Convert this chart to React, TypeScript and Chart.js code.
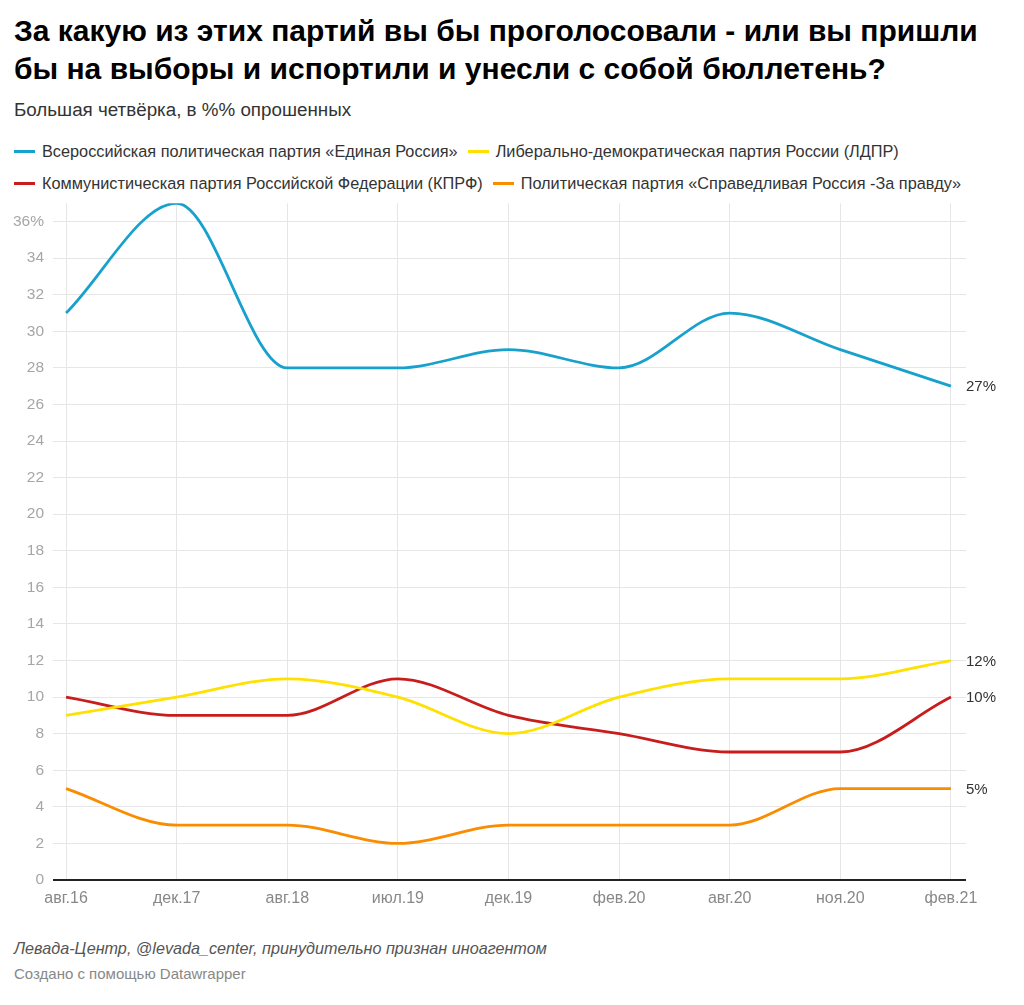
import { useEffect, useRef } from "react";
import { Chart, registerables } from "chart.js";

Chart.register(...registerables);

const LABELS = ["авг.16", "дек.17", "авг.18", "июл.19", "дек.19", "фев.20", "авг.20", "ноя.20", "фев.21"];
const ER = [31, 37, 28, 28, 29, 28, 31, 29, 27];
const LDPR = [9, 10, 11, 10, 8, 10, 11, 11, 12];
const KPRF = [10, 9, 9, 11, 9, 8, 7, 7, 10];
const SR = [5, 3, 3, 2, 3, 3, 3, 5, 5];
const Y_TICKS = [0, 2, 4, 6, 8, 10, 12, 14, 16, 18, 20, 22, 24, 26, 28, 30, 32, 34, 36];

const SERIES = [
  { name: "Всероссийская политическая партия «Единая Россия»", data: ER, color: "#18a1cd" },
  { name: "Либерально-демократическая партия России (ЛДПР)", data: LDPR, color: "#fee100" },
  { name: "Коммунистическая партия Российской Федерации (КПРФ)", data: KPRF, color: "#c71e1d" },
  { name: "Политическая партия «Справедливая Россия -За правду»", data: SR, color: "#fa8c00" },
];

const FONT = "'Liberation Sans', Arial, sans-serif";

// подписи последних значений справа от линий
const endLabels = {
  id: "endLabels",
  afterDatasetsDraw(chart: any) {
    const ctx = chart.ctx;
    ctx.save();
    ctx.font = `15px ${FONT}`;
    ctx.fillStyle = "#333";
    ctx.textAlign = "left";
    ctx.textBaseline = "middle";
    SERIES.forEach((s, i) => {
      const pts = chart.getDatasetMeta(i).data;
      const last = pts[pts.length - 1];
      ctx.fillText(`${s.data[s.data.length - 1]}%`, last.x + 15, last.y + 1);
    });
    ctx.restore();
  },
};

function LineChart() {
  const canvasRef = useRef<HTMLCanvasElement | null>(null);

  useEffect(() => {
    const canvas = canvasRef.current;
    if (!canvas) return;
    const chart = new Chart(canvas, {
      type: "line",
      data: {
        datasets: SERIES.map((s) => ({
          label: s.name,
          data: s.data.map((v, i) => ({ x: i, y: v })),
          borderColor: s.color,
          backgroundColor: s.color,
          borderWidth: 2.8,
          pointRadius: 0,
          cubicInterpolationMode: "monotone" as const,
          fill: false,
        })),
      },
      options: {
        animation: false,
        responsive: true,
        maintainAspectRatio: false,
        layout: { padding: { left: 0, right: 58, top: 7, bottom: 0 } },
        plugins: { legend: { display: false }, tooltip: { enabled: false } },
        scales: {
          x: {
            type: "linear",
            min: -0.118,
            max: 8.136,
            afterBuildTicks: (scale: any) => {
              scale.ticks = LABELS.map((_, i) => ({ value: i }));
            },
            afterFit: (scale: any) => {
              scale.height = 40;
            },
            border: { display: false },
            grid: { color: "#e6e6e6", lineWidth: 1, drawTicks: false },
            ticks: {
              autoSkip: false,
              maxRotation: 0,
              padding: 9,
              color: "#888",
              font: { size: 16, family: FONT },
              callback: (v: any) => LABELS[v] ?? "",
            },
          },
          y: {
            min: 0,
            max: 37,
            afterBuildTicks: (scale: any) => {
              scale.ticks = Y_TICKS.map((v) => ({ value: v }));
            },
            afterFit: (scale: any) => {
              scale.width = 53;
            },
            border: { display: false },
            grid: {
              drawTicks: false,
              color: (c: any) => (c.tick && c.tick.value === 0 ? "#222" : "#e6e6e6"),
              lineWidth: (c: any) => (c.tick && c.tick.value === 0 ? 2 : 1),
            },
            ticks: {
              padding: 9,
              color: "#a6a6a6",
              font: { size: 15.5, family: FONT },
              callback: (v: any) => (v === 36 ? "36%" : `${v}`),
            },
          },
        },
      },
      plugins: [endLabels],
    });
    return () => chart.destroy();
  }, []);

  return (
    <div style={{ position: "absolute", left: 0, top: 185, width: 1024, height: 735 }}>
      <canvas ref={canvasRef} />
    </div>
  );
}

export default function App() {
  useEffect(() => {
    document.body.style.margin = "0";
  }, []);

  return (
    <div
      style={{
        position: "relative",
        width: 1024,
        height: 1005,
        background: "#fff",
        fontFamily: FONT,
        color: "#333",
        overflow: "hidden",
      }}
    >
      <div
        style={{
          position: "absolute",
          left: 14,
          top: 12,
          width: 980,
          fontSize: 30,
          lineHeight: "38px",
          fontWeight: 700,
          color: "#000",
        }}
      >
        За какую из этих партий вы бы проголосовали - или вы пришли бы на выборы и испортили и унесли с собой бюллетень?
      </div>
      <div style={{ position: "absolute", left: 14, top: 99, fontSize: 18.8, color: "#333" }}>
        Большая четвёрка, в %% опрошенных
      </div>
      <div
        style={{
          position: "absolute",
          left: 14,
          top: 142,
          width: 990,
          display: "flex",
          flexWrap: "wrap",
          columnGap: 10,
          rowGap: 13,
          fontSize: 16.3,
          lineHeight: "19px",
        }}
      >
        {SERIES.map((s) => (
          <div key={s.name} style={{ display: "flex", alignItems: "center" }}>
            <span style={{ width: 21, height: 3, background: s.color, marginRight: 7, display: "inline-block" }} />
            <span>{s.name}</span>
          </div>
        ))}
      </div>
      <LineChart />
      <div style={{ position: "absolute", left: 14, top: 939, fontSize: 16.2, fontStyle: "italic", color: "#555" }}>
        Левада-Центр, @levada_center, принудительно признан иноагентом
      </div>
      <div style={{ position: "absolute", left: 14, top: 965, fontSize: 15, color: "#888" }}>
        Создано с помощью Datawrapper
      </div>
    </div>
  );
}
